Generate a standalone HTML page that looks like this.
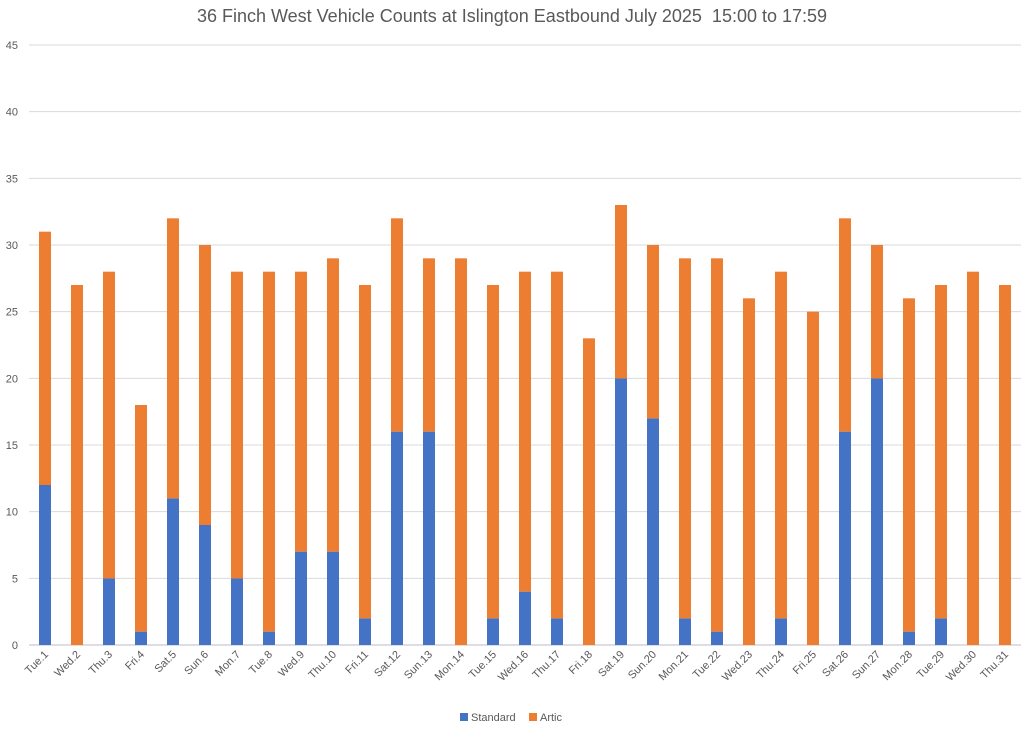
<!DOCTYPE html>
<html><head><meta charset="utf-8"><style>
body{margin:0;background:#fff;}
svg{display:block;font-family:"Liberation Sans",sans-serif;}
</style></head><body>
<svg id="chart" width="1024" height="733">
<text x="512" y="22" text-anchor="middle" font-size="18" fill="#595959">36 Finch West Vehicle Counts at Islington Eastbound July 2025&#160; 15:00 to 17:59</text>
<g id="grid"></g><g id="bars"></g><g id="xl"></g>
<g>
<rect x="460" y="713" width="8" height="8" fill="#4472c4"/>
<text x="471" y="721" font-size="11" fill="#595959">Standard</text>
<rect x="529" y="713" width="8" height="8" fill="#ed7d31"/>
<text x="540" y="721" font-size="11" fill="#595959">Artic</text>
</g>
</svg>
<script>
const categories=["Tue.1","Wed.2","Thu.3","Fri.4","Sat.5","Sun.6","Mon.7","Tue.8","Wed.9","Thu.10","Fri.11","Sat.12","Sun.13","Mon.14","Tue.15","Wed.16","Thu.17","Fri.18","Sat.19","Sun.20","Mon.21","Tue.22","Wed.23","Thu.24","Fri.25","Sat.26","Sun.27","Mon.28","Tue.29","Wed.30","Thu.31"];
const standard=[12,0,5,1,11,9,5,1,7,7,2,16,16,0,2,4,2,0,20,17,2,1,0,2,0,16,20,1,2,0,0];
const artic=[19,27,23,17,21,21,23,27,21,22,25,16,13,29,25,24,26,23,13,13,27,28,26,26,25,16,10,25,25,28,27];
const yTicks=[0,5,10,15,20,25,30,35,40,45];
const NS="http://www.w3.org/2000/svg";
const x0=29,x1=1021,y0=645,yTop=45,yMax=45;
const y=v=>y0-(v/yMax)*(y0-yTop);
const bw=(x1-x0)/categories.length;
const xc=i=>x0+bw*(i+0.5);
function mk(tag,attrs,parent){const e=document.createElementNS(NS,tag);for(const k in attrs)e.setAttribute(k,attrs[k]);parent.appendChild(e);return e;}
const grid=document.getElementById('grid');
yTicks.forEach(t=>{
 const l=mk('line',{x1:x0,x2:x1,y1:y(t),y2:y(t),stroke:t===0?'#bfbfbf':'#d9d9d9','stroke-width':1},grid);
 
 
 const tx=mk('text',{x:18,y:y(t)+4,'text-anchor':'end','font-size':11,fill:'#595959'},grid);
 tx.textContent=t;
 
 
});
const bars=document.getElementById('bars'),xl=document.getElementById('xl');
categories.forEach((c,i)=>{
 const w=12,bx=xc(i)-w/2;
 const s=mk('rect',{x:bx,y:y(standard[i]),width:w,height:y0-y(standard[i]),fill:'#4472c4'},bars);
 
 
 const tot=standard[i]+artic[i];
 const a=mk('rect',{x:bx,y:y(tot),width:w,height:y(standard[i])-y(tot),fill:'#ed7d31'},bars);
 
 
 const t=mk('text',{x:xc(i)+4,y:y0+10,'text-anchor':'end','font-size':11,fill:'#595959',transform:`rotate(-45 ${xc(i)+4} ${y0+10})`},xl);
 t.textContent=c;
 
 
});
</script>
</body></html>
